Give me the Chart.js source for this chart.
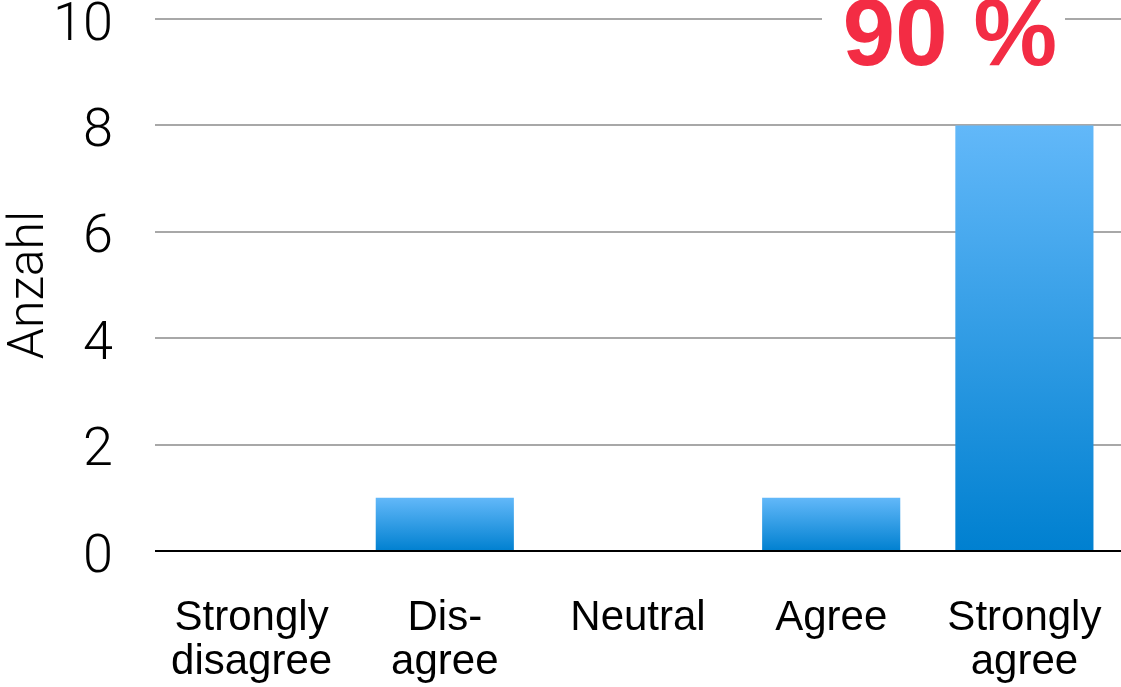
<!DOCTYPE html>
<html>
<head>
<meta charset="utf-8">
<script src="https://cdn.jsdelivr.net/npm/chart.js@4"></script>
<style>
  html, body { margin: 0; padding: 0; background: #fff; }
  #wrap { width: 1121px; height: 687px; }
</style>
</head>
<body>
<div id="wrap"><canvas id="umfrage" width="1121" height="687"></canvas></div>
<script>
// Antworten der Umfrage
const kategorien = [
    ['Strongly', 'disagree'],
    ['Dis-', 'agree'],
    'Neutral',
    'Agree',
    ['Strongly', 'agree']
];
const anzahl = [0, 1, 0, 1, 8];
const yTicks = [0, 2, 4, 6, 8, 10];

// Anteil der Zustimmung (Agree + Strongly agree)
const gesamt = anzahl.reduce((s, v) => s + v, 0);
const zustimmung = Math.round((anzahl[3] + anzahl[4]) / gesamt * 100);

// Farbverlauf pro Balken, von oben hell nach unten dunkel
function balkenFarbe(context) {
    const chart = context.chart;
    const yScale = chart.scales.y;
    if (!chart.chartArea || !yScale) return '#3a9fe6';
    const wert = context.raw || 0;
    const oben = yScale.getPixelForValue(wert);
    const unten = yScale.getPixelForValue(0);
    if (oben === unten) return '#3a9fe6';
    const g = chart.ctx.createLinearGradient(0, oben, 0, unten);
    g.addColorStop(0, '#62b8f9');
    g.addColorStop(1, '#0080d0');
    return g;
}

// Beschriftung "90 %" oben rechts, mit weissem Hintergrund ueber der Linie
const prozentLabel = {
    id: 'prozentLabel',
    afterDraw(chart) {
        const { ctx, chartArea } = chart;
        const cx = chartArea.right - 171;
        ctx.save();
        ctx.fillStyle = '#fff';
        ctx.fillRect(cx - 128, chartArea.top - 10, 243, 20);
        ctx.font = 'bold 94px "Liberation Sans", Arial, sans-serif';
        ctx.fillStyle = '#f32c44';
        ctx.textAlign = 'center';
        ctx.textBaseline = 'alphabetic';
        ctx.fillText(zustimmung + ' %', cx, chartArea.top + 46);
        ctx.restore();
    }
};

const ctx = document.getElementById('umfrage').getContext('2d');
new Chart(ctx, {
    type: 'bar',
    data: {
        labels: kategorien,
        datasets: [{
            label: 'Anzahl',
            data: anzahl,
            backgroundColor: balkenFarbe,
            borderWidth: 0,
            barPercentage: 0.715,
            categoryPercentage: 1
        }]
    },
    options: {
        responsive: false,
        animation: false,
        layout: { padding: { top: 19, right: 0, left: 0, bottom: 0 } },
        plugins: {
            legend: { display: false },
            tooltip: { enabled: false }
        },
        scales: {
            x: {
                grid: { display: false, drawTicks: false },
                border: { display: false },
                ticks: {
                    color: '#000',
                    padding: 45,
                    maxRotation: 0,
                    autoSkip: false,
                    font: { family: '"Liberation Sans", Arial, sans-serif', size: 42, lineHeight: 1.05 }
                },
                afterFit: scale => {
                    scale.height = 136;
                    scale.paddingLeft = 0;
                    scale.paddingRight = 0;
                }
            },
            y: {
                min: 0,
                max: 10,
                afterBuildTicks: scale => { scale.ticks = yTicks.map(v => ({ value: v })); },
                grid: {
                    drawTicks: false,
                    lineWidth: 2,
                    color: c => (c.tick && c.tick.value === 0 ? '#000' : '#a8a8a8')
                },
                border: { display: false },
                ticks: {
                    color: '#000',
                    padding: 42,
                    labelOffset: 7,
                    font: { family: 'Roboto, "Open Sans", sans-serif', weight: 300, size: 54 }
                },
                title: {
                    display: true,
                    text: 'Anzahl',
                    color: '#000',
                    padding: 0,
                    font: { family: 'Roboto, "Open Sans", sans-serif', weight: 300, size: 50 }
                },
                afterFit: scale => {
                    scale.width = 155;
                    scale.paddingTop = 0;
                    scale.paddingBottom = 0;
                }
            }
        }
    },
    plugins: [prozentLabel]
});
</script>
</body>
</html>
